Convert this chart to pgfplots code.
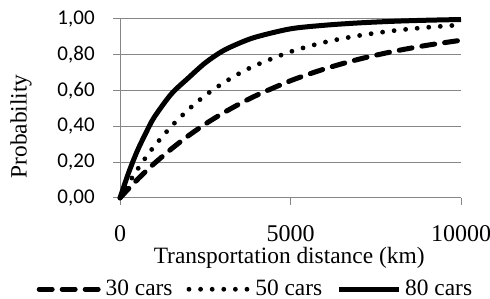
\documentclass[border=0pt,11pt]{standalone}
\usepackage{fontspec}
\setmainfont{Liberation Serif}
\newfontfamily\calibri{Carlito}
\usepackage{pgfplots}
\pgfplotsset{compat=1.18}
\definecolor{gridgray}{RGB}{134,134,134}

\pgfplotstableread{
x y
0 0
250 0.0519
500 0.101
750 0.148
1000 0.192
1500 0.273
2000 0.347
2500 0.413
3000 0.472
3500 0.525
4000 0.573
5000 0.655
6000 0.721
7000 0.775
8000 0.818
9000 0.853
10000 0.881
}\carsthirty

\pgfplotstableread{
x y
0 0
250 0.0815
500 0.156
750 0.225
1000 0.288
1500 0.399
2000 0.493
2500 0.573
3000 0.639
3500 0.696
4000 0.743
5000 0.817
6000 0.870
7000 0.907
8000 0.934
9000 0.953
10000 0.967
}\carsfifty

\pgfplotstableread{
x y
0 0
250 0.14
500 0.26
750 0.36
1000 0.45
1500 0.58
2000 0.67
2500 0.755
3000 0.82
3500 0.865
4000 0.90
5000 0.945
6000 0.965
7000 0.978
8000 0.987
9000 0.993
10000 0.997
}\carseighty

\begin{document}
\begin{tikzpicture}[font=\fontsize{11.7bp}{14bp}\selectfont]
\begin{axis}[
  scale only axis,
  width=170.5bp, height=89.5bp,
  xmin=0, xmax=10000, ymin=0, ymax=1,
  clip=false,
  axis lines*=left,
  axis line style={gridgray, line width=0.5bp, -},
  xtick={0,5000,10000},
  ytick={0,0.2,0.4,0.6,0.8,1},
  ymajorgrids,
  grid style={gridgray, line width=0.5bp},
  tick align=outside,
  major tick length=3.5bp,
  tick style={gridgray, line width=0.5bp},
  scaled x ticks=false,
  /pgf/number format/assume math mode=true,
  xticklabel style={font=\fontsize{12bp}{14bp}\selectfont, inner sep=0pt, yshift=-10bp, /pgf/number format/set thousands separator={}, /pgf/number format/fixed, /pgf/number format/precision=0},
  yticklabel style={font=\calibri\fontsize{10.5bp}{12bp}\selectfont, inner sep=0pt, xshift=-9bp, /pgf/number format/fixed, /pgf/number format/fixed zerofill, /pgf/number format/precision=2, /pgf/number format/use comma},
  xlabel={Transportation distance (km)},
  ylabel={Probability},
  xlabel style={at={(axis description cs:0.496,-0.365)}, anchor=base, inner sep=0pt},
  ylabel style={at={(axis description cs:-0.29,0.4)}, anchor=center, inner sep=0pt},
  legend style={draw=none, fill=none, legend columns=3,
    at={(axis description cs:0.40,-0.51)}, anchor=center,
    font=\fontsize{11.7bp}{14bp}\selectfont,
    /tikz/every even column/.append style={column sep=5bp},
    inner sep=0pt},
  legend image code/.code={\draw[#1] (0bp,0bp) -- (30bp,0bp);},
]
\addplot[black, line width=2.5bp, line cap=round, dash pattern=on 6.5bp off 5bp, smooth] table {\carsthirty};
\addlegendentry{30 cars}
\addplot[black, line width=2.4bp, line cap=round, dash pattern=on 0bp off 5.8bp, smooth] table {\carsfifty};
\addlegendentry{50 cars}
\addplot[black, line width=2.5bp, smooth] table {\carseighty};
\addlegendentry{80 cars}
\coordinate (bbsw) at (axis description cs:-0.352,-0.559);
\coordinate (bbne) at (axis description cs:1.085,1.106);
\end{axis}
\pgfresetboundingbox
\path (bbsw) rectangle (bbne);
\end{tikzpicture}
\end{document}
